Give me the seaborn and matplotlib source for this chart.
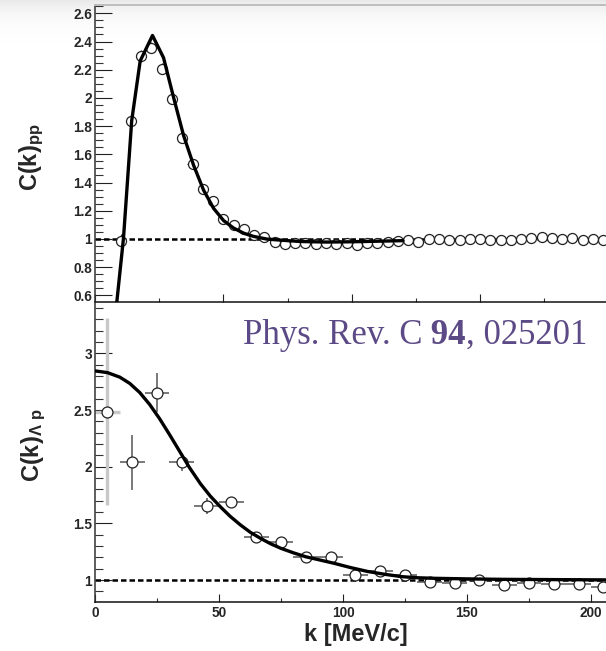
import numpy as np
import matplotlib
matplotlib.use("Agg")
import matplotlib.pyplot as plt
import seaborn as sns
from matplotlib.ticker import MultipleLocator, FuncFormatter

# ---------------- data ----------------
pp_k = [10, 14, 18, 22, 26, 30, 34, 38, 42, 46, 50, 54, 58, 62, 66, 70, 74, 78,
        82, 86, 90, 94, 98, 102, 106, 110, 114, 118, 122, 126, 130, 134, 138,
        142, 146, 150, 154, 158, 162, 166, 170, 174, 178, 182, 186, 190, 194, 198]
pp_c = [0.983, 1.834, 2.297, 2.356, 2.208, 1.992, 1.715, 1.534, 1.354, 1.271,
        1.140, 1.098, 1.068, 1.025, 1.012, 0.980, 0.962, 0.972, 0.970, 0.965,
        0.968, 0.966, 0.970, 0.958, 0.968, 0.974, 0.978, 0.985, 0.990, 0.982,
        0.999, 0.999, 0.990, 0.994, 0.999, 0.999, 0.990, 0.994, 0.990, 0.999,
        1.006, 1.017, 1.006, 0.999, 1.006, 0.994, 0.999, 0.990]
pp_err = [0.05, 0.04, 0.04, 0.04, 0.04, 0.03, 0.03, 0.03, 0.03, 0.02,
          0.02, 0.02, 0.02, 0.02, 0.02, 0.02, 0.02, 0.02, 0.02, 0.02,
          0.02, 0.02, 0.02, 0.02, 0.02, 0.02, 0.02, 0.02, 0.02, 0.02,
          0.02, 0.02, 0.02, 0.02, 0.02, 0.02, 0.02, 0.02, 0.02, 0.02,
          0.02, 0.02, 0.02, 0.02, 0.02, 0.02, 0.02, 0.02]
pp_fit_k = [7.5, 11.1, 14.3, 17.6, 22.4, 26.7, 30.6, 34.5, 38.4, 42.3, 46.2,
            50.1, 54.0, 57.9, 61.8, 67.0, 73.6, 80.0, 90.0, 100.0, 110.0, 120.0]
pp_fit_c = [0.38, 1.006, 1.839, 2.262, 2.443, 2.285, 2.004, 1.734, 1.523, 1.346,
            1.217, 1.130, 1.077, 1.041, 1.018, 0.999, 0.990, 0.982, 0.978, 0.980,
            0.984, 0.988]

lp_k = [5, 15, 25, 35, 45, 55, 65, 75, 85, 95, 105, 115, 125, 135, 145, 155,
        165, 175, 185, 195, 205]
lp_c = [2.485, 2.038, 2.653, 2.043, 1.652, 1.688, 1.382, 1.337, 1.205, 1.205,
        1.043, 1.078, 1.043, 0.985, 0.970, 1.000, 0.955, 0.970, 0.963, 0.963, 0.940]
lp_err = [0.825, 0.24, 0.17, 0.08, 0.07, 0.04, 0.03, 0.03, 0.02, 0.02, 0.02,
          0.02, 0.02, 0.02, 0.02, 0.02, 0.02, 0.02, 0.02, 0.02, 0.02]
lp_fit_k = [0, 5, 10, 14, 18, 22, 26, 30, 34, 38, 42.5, 46.5, 50.6, 54.6, 58.7,
            62.7, 66.8, 70.8, 74.9, 80, 85, 90, 96.5, 103, 110, 117, 123.5,
            130, 137, 150, 164, 215]
lp_fit_c = [2.845, 2.83, 2.79, 2.735, 2.655, 2.55, 2.425, 2.285, 2.14, 1.995,
            1.85, 1.74, 1.645, 1.56, 1.485, 1.42, 1.367, 1.32, 1.28, 1.24, 1.205,
            1.18, 1.147, 1.11, 1.075, 1.05, 1.03, 1.02, 1.015, 1.01, 1.006, 1.0]

pp_ticks_y = [0.6, 0.8, 1.0, 1.2, 1.4, 1.6, 1.8, 2.0, 2.2, 2.4, 2.6]
lp_ticks_y = [1.0, 1.5, 2.0, 2.5, 3.0]
x_ticks = [0, 50, 100, 150, 200]

# ---------------- style ----------------
sns.set_theme(style="ticks")
plt.rcParams["font.family"] = ["Liberation Sans", "DejaVu Sans"]
plt.rcParams["font.weight"] = "bold"
plt.rcParams["mathtext.fontset"] = "custom"
plt.rcParams["mathtext.rm"] = "Liberation Sans:bold"
plt.rcParams["mathtext.bf"] = "Liberation Sans:bold"
plt.rcParams["mathtext.it"] = "Liberation Sans:bold"

W, H = 606, 651
fig = plt.figure(figsize=(W / 100, H / 100), dpi=100)
fig.patch.set_facecolor("white")

# light slide-like gradient at the very top
bg = fig.add_axes([0, 0, 1, 1], zorder=-10)
bg.axis("off")
rows = np.arange(H)
shade = 1.0 - 0.09 * np.exp(-rows / 14.0)
img = np.repeat(shade[:, None], 4, axis=1)
bg.imshow(img, cmap="gray", vmin=0, vmax=1, aspect="auto", extent=[0, 1, 0, 1])

left = 95 / W
right_px = 624
width = (right_px - 95) / W
top_ax = fig.add_axes([left, 1 - 302 / H, width, (302 - 5) / H])
bot_ax = fig.add_axes([left, 1 - 602 / H, width, (602 - 302) / H])
for ax in (top_ax, bot_ax):
    ax.set_facecolor("none")

# ---------------- top panel: pp ----------------
ax = top_ax
ax.axhline(1.0, color="black", lw=1.8, ls=(0, (2.2, 1.2)), zorder=1)
ax.errorbar(pp_k, pp_c, yerr=pp_err, xerr=2, fmt="none", ecolor="#222222",
            elinewidth=0.8, capsize=0, zorder=2)
sns.scatterplot(x=pp_k, y=pp_c, ax=ax, marker="o", s=52, facecolor="white",
                edgecolor="#222222", linewidth=0.9, zorder=3, legend=False)
sns.lineplot(x=pp_fit_k, y=pp_fit_c, ax=ax, color="black", lw=2.4,
             estimator=None, sort=False, zorder=4, legend=False)
ax.set_xlim(0, (right_px - 95) / 2.567)
ax.set_ylim(0.553, 2.659)
ax.set_yticks(pp_ticks_y)
ax.yaxis.set_minor_locator(MultipleLocator(0.05))
ax.set_xticks(x_ticks)
ax.xaxis.set_minor_locator(MultipleLocator(25))
ax.tick_params(labelbottom=False)
ax.spines["top"].set_color("#bdbdbd")
ax.spines["top"].set_linewidth(1.4)

# ---------------- bottom panel: Lambda p ----------------
ax = bot_ax
ax.axhline(1.0, color="black", lw=1.8, ls=(0, (2.2, 1.2)), zorder=1)
ax.errorbar(lp_k[1:], lp_c[1:], yerr=lp_err[1:], xerr=5, fmt="none",
            ecolor="#555555", elinewidth=1.1, capsize=0, zorder=2)
ax.errorbar(lp_k[:1], lp_c[:1], yerr=lp_err[:1], xerr=5, fmt="none",
            ecolor="#c8c8c8", elinewidth=2.4, capsize=0, zorder=2)
sns.scatterplot(x=lp_k, y=lp_c, ax=ax, marker="o", s=62, facecolor="white",
                edgecolor="#222222", linewidth=0.9, zorder=3, legend=False)
sns.lineplot(x=lp_fit_k, y=lp_fit_c, ax=ax, color="black", lw=2.4,
             estimator=None, sort=False, zorder=4, legend=False)
ax.set_xlim(0, (right_px - 95) / 2.48)
ax.set_ylim(0.806, 3.453)
ax.set_yticks(lp_ticks_y)
ax.yaxis.set_minor_locator(MultipleLocator(0.1))
ax.set_xticks(x_ticks)
ax.xaxis.set_minor_locator(MultipleLocator(25))

fmt = FuncFormatter(lambda v, p: "%g" % round(v, 3))
for ax in (top_ax, bot_ax):
    ax.yaxis.set_major_formatter(fmt)
    ax.xaxis.set_major_formatter(fmt)
    ax.set_xlabel("")
    ax.set_ylabel("")
    ax.tick_params(axis="y", which="major", direction="in", length=12.5,
                   width=0.8, color="#222222", labelsize=9.8, pad=2,
                   left=True, right=False)
    ax.tick_params(axis="y", which="minor", direction="in", length=6,
                   width=0.8, color="#333333", left=True, right=False)
    ax.tick_params(axis="x", which="major", direction="in", length=6,
                   width=0.8, color="#222222", labelsize=9.8, pad=3,
                   bottom=True, top=False)
    ax.tick_params(axis="x", which="minor", direction="in", length=3,
                   width=0.8, color="#333333", bottom=True, top=False)
    ax.spines["left"].set_color("#333333")
    ax.spines["left"].set_linewidth(1.1)
    ax.spines["bottom"].set_color("#111111")
    ax.spines["bottom"].set_linewidth(1.1)
    ax.spines["right"].set_visible(False)
    for lbl in ax.get_xticklabels() + ax.get_yticklabels():
        lbl.set_fontweight("bold")
bot_ax.spines["top"].set_visible(False)

# ---------------- axis titles ----------------
fig.text(32 / W, 1 - 157 / H, r"$\mathbf{C(k)_{pp}}$", rotation=90,
         ha="center", va="center", fontsize=17)
fig.text(34 / W, 1 - 445 / H, r"$\mathbf{C(k)_{\Lambda\ p}}$", rotation=90,
         ha="center", va="center", fontsize=17)
fig.text(356 / W, 1 - 635 / H, "k [MeV/c]", ha="center", va="center",
         fontsize=17, fontweight="bold")

# ---------------- citation ----------------
cite_col = "#5c4a86"
t1 = fig.text(243 / W, 1 - 352 / H, "Phys. Rev. C", family="Liberation Serif",
              fontsize=25, fontweight="normal", color=cite_col,
              ha="left", va="bottom")
t2 = fig.text(0, 0, " 94", family="Liberation Serif", fontsize=25,
              fontweight="bold", color=cite_col, ha="left", va="bottom")
t3 = fig.text(0, 0, ", 025201", family="Liberation Serif", fontsize=25,
              fontweight="normal", color=cite_col, ha="left", va="bottom")
fig.canvas.draw()
r = fig.canvas.get_renderer()
b1 = t1.get_window_extent(r)
t2.set_position((b1.x1 / (W), b1.y0 / (H)))
fig.canvas.draw()
b2 = t2.get_window_extent(r)
t3.set_position((b2.x1 / (W), b1.y0 / (H)))

fig.savefig("out.png", dpi=100)
